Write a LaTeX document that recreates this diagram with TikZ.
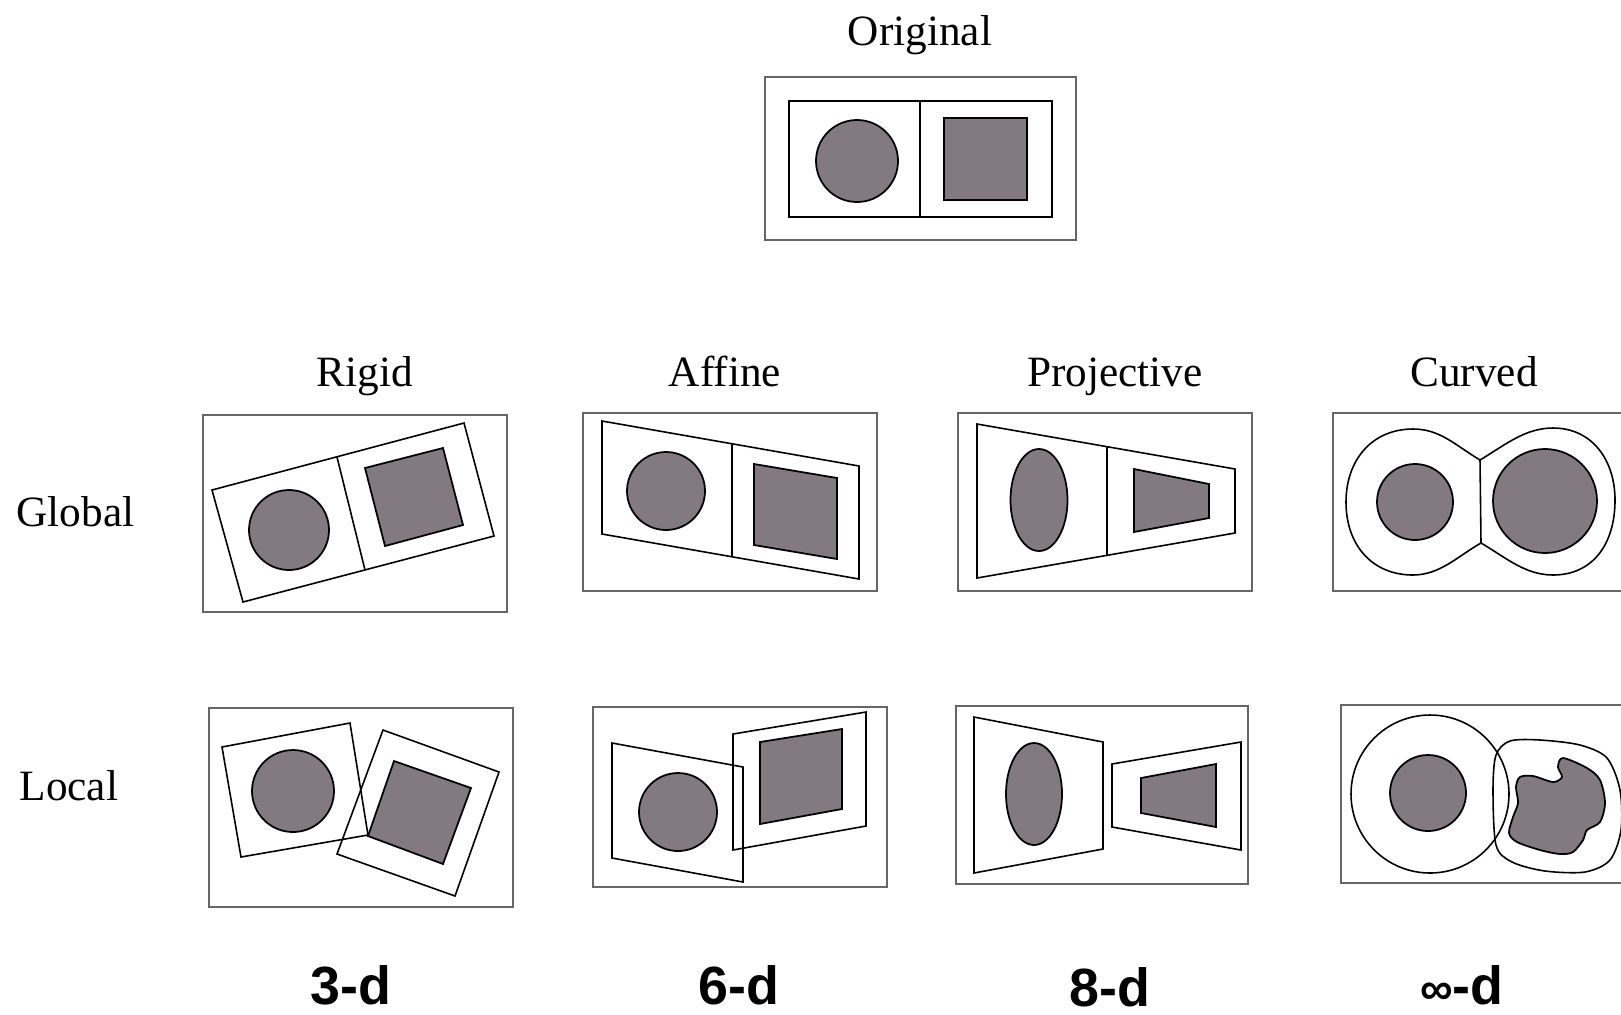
\documentclass[tikz,border=0pt]{standalone}
\usepackage{fontspec}
\setmainfont{Liberation Serif}
\newfontfamily\doffont{Liberation Sans}
\definecolor{shapegray}{RGB}{131,122,128}

\begin{document}
\begin{tikzpicture}[x=0.01cm,y=-0.01cm,
    outer/.style={draw=black!60,line width=0.5pt},
    frame/.style={draw,line width=0.45pt},
    piece/.style={draw,fill=shapegray,line width=0.5pt},
    title/.style={anchor=base,inner sep=0pt,font=\fontsize{12.3}{14}\selectfont},
    dof/.style={anchor=base,inner sep=0pt,font=\doffont\bfseries\fontsize{15.3}{17}\selectfont}]
        \clip (0,0) rectangle (1621,1014);

        \node [title] (original) at (920,45) {Original};
        \draw [outer] (765,77) rectangle (1076,240);
        \draw [frame] (789,101) rectangle (1052,217);
        \draw [frame] (920,101) -- (920,217);
        \draw [piece] (857,161) circle [radius=41];
        \draw [piece] (944,118) rectangle (1027,200);

        \node [title] (rigid) at (365,386) {Rigid};
        \node [title] (affine) at (725,386) {Affine};
        \node [title] (projective) at (1115,386) {Projective};
        \node [title] (curved) at (1474,386) {Curved};
        \node [title, anchor=base west] (global) at (16,526) {Global};
        \node [title, anchor=base west] (local) at (19,800) {Local};

        \draw [outer] (203,415) rectangle (507,612);
        \draw [frame] (212,490) -- (464,423) -- (494,536) -- (243,602) -- cycle;
        \draw [frame] (337,457) -- (365,570);
        \draw [piece] (289,530) circle [radius=40];
        \draw [piece] (365,468) -- (443,448) -- (463,525) -- (385,546) -- cycle;

        \draw [outer] (583,413) rectangle (877,591);
        \draw [frame] (602,421) -- (859,466) -- (859,579) -- (602,534) -- cycle;
        \draw [frame] (732,443) -- (732,557);
        \draw [piece] (666,491) circle [radius=39];
        \draw [piece] (754,464) -- (837,478) -- (837,559) -- (754,545) -- cycle;

        \draw [outer] (958,413) rectangle (1252,591);
        \draw [frame] (977,424) -- (1235,469) -- (1235,533) -- (977,578) -- cycle;
        \draw [frame] (1107,447) -- (1107,555);
        \draw [piece] (1039,500) ellipse [x radius=28.5, y radius=51];
        \draw [piece] (1134,469) -- (1209,484) -- (1209,518) -- (1134,532) -- cycle;

        \draw [outer] (1333,413) rectangle (1640,591);
        \draw [frame] (1480,460) .. controls (1455,445) and (1440,429) .. (1413,429)
            .. controls (1372,429) and (1346,460) .. (1346,502)
            .. controls (1346,545) and (1372,575) .. (1413,575)
            .. controls (1440,575) and (1458,556) .. (1481,543);
        \draw [frame] (1480,460) .. controls (1505,445) and (1525,428) .. (1553,428)
            .. controls (1592,428) and (1615,460) .. (1615,500)
            .. controls (1615,545) and (1592,575) .. (1553,575)
            .. controls (1525,575) and (1505,557) .. (1481,543);
        \draw [frame] (1480,460) -- (1481,543);
        \draw [piece] (1415,502) circle [radius=38];
        \draw [piece] (1545,501) circle [radius=52];

        \draw [outer] (209,708) rectangle (513,907);
        \draw [frame] (222,747) -- (350,723) -- (368,835) -- (241,857) -- cycle;
        \draw [piece] (293,791) circle [radius=41];
        \draw [frame] (383,730) -- (499,772) -- (455,896) -- (337,854) -- cycle;
        \draw [piece] (394,761) -- (471,788) -- (443,864) -- (368,836) -- cycle;

        \draw [outer] (593,707) rectangle (887,887);
        \draw [frame] (612,743) -- (743,767) -- (743,882) -- (612,858) -- cycle;
        \draw [piece] (678,812) circle [radius=39];
        \draw [frame] (733,734) -- (866,712) -- (866,826) -- (733,850) -- cycle;
        \draw [piece] (760,742) -- (842,729) -- (842,809) -- (760,824) -- cycle;

        \draw [outer] (956,706) rectangle (1248,884);
        \draw [frame] (974,717) -- (1103,742) -- (1103,849) -- (974,873) -- cycle;
        \draw [piece] (1034,794) ellipse [x radius=28, y radius=51];
        \draw [frame] (1112,764) -- (1241,742) -- (1241,850) -- (1112,827) -- cycle;
        \draw [piece] (1141,778) -- (1216,764) -- (1216,827) -- (1141,813) -- cycle;

        \draw [outer] (1341,705) rectangle (1640,883);
        \draw [frame] (1430,794) circle [radius=79];
        \draw [piece] (1428,793) circle [radius=38];
        \draw [frame] plot [smooth cycle] coordinates {(1493,790) (1496,755) (1510,741)
            (1540,740) (1580,745) (1607,758) (1620,790) (1621,830) (1610,860) (1585,872)
            (1545,871) (1512,862) (1496,845)};
        \draw [piece] plot [smooth cycle] coordinates {(1563,758) (1587,768) (1600,780)
            (1605,803) (1600,822) (1587,830) (1583,840) (1573,852) (1560,854) (1540,850)
            (1517,842) (1509,833) (1513,817) (1518,803) (1516,787) (1520,777) (1533,776)
            (1553,782) (1562,777) (1558,767)};

        \node [dof] (d3) at (351,1004) {3-d};
        \node [dof] (d6) at (739,1004) {6-d};
        \node [dof] (d8) at (1110,1006) {8-d};
        \node [dof] (dinf) at (1462,1004) {{\fontsize{13}{15}\selectfont ∞}-d};
      \end{tikzpicture}
\end{document}
